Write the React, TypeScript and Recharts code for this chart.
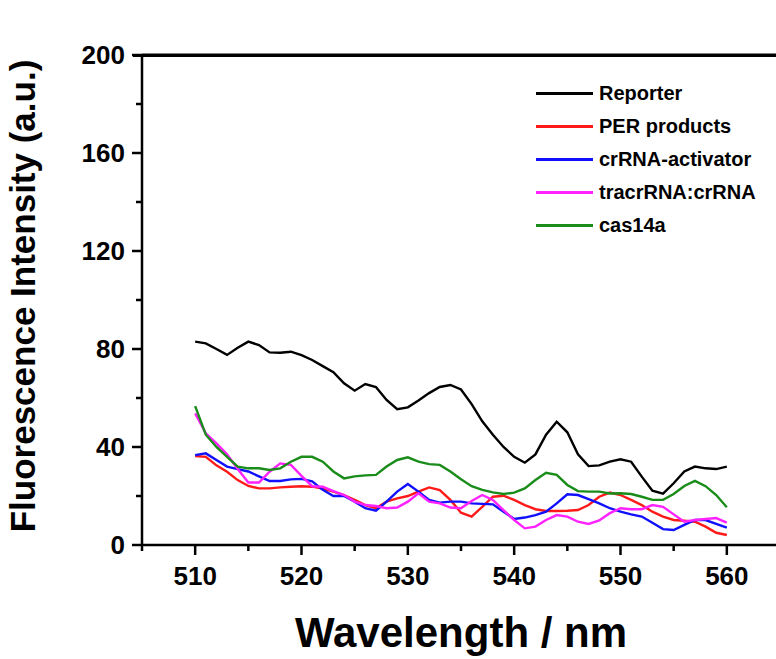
import React from 'react';
import { LineChart, Line, XAxis, YAxis, Legend, ReferenceLine } from 'recharts';

const wavelengths = [510,511,512,513,514,515,516,517,518,519,520,521,522,523,524,525,526,527,528,529,530,531,532,533,534,535,536,537,538,539,540,541,542,543,544,545,546,547,548,549,550,551,552,553,554,555,556,557,558,559,560];

const reporter = [83,82.3,80,77.6,80.5,83,81.6,78.6,78.5,78.9,77.5,75.5,73,70.5,66,63,65.7,64.5,59.2,55.4,56.2,59,62,64.5,65.3,63.5,57.5,50.5,45,40,36,33.6,37,45,50.3,46,37,32.2,32.5,34,35,34,27.9,22.2,21,25.2,30,32,31.3,31,32];
const perProducts = [36.3,36,32.5,29.9,26.5,24.1,23.1,23.1,23.5,23.8,24,23.8,23,21.8,20.4,18.4,16.3,15,17.7,19,20,21.8,23.5,22.4,18.4,13.2,11.6,15.6,19.7,20.1,18.4,16.3,14.6,13.9,13.9,14,14.3,16.3,19.7,21.4,20.4,18.4,16.3,13.6,11.6,10.2,9.9,9.5,7.5,5,4.1];
const crRNAActivator = [36.7,37.4,34.7,32,31,30,28,26.1,26.1,26.8,27,26,22.5,20,20,17.7,15,14,17.7,21.8,24.9,21.8,18.4,17.3,17.7,17.7,17,16.8,16.6,13.6,10.6,11.2,12.2,13.6,17,20.7,20.4,18.7,17,15,13.6,12.5,11.6,9.1,6.5,6.1,8.2,10.2,10.2,8.6,7.1];
const tracrRNA = [53.7,45.6,41.5,37,31,25.5,25.5,29.9,33.3,32.7,28.2,24,23.8,22,20.4,17.7,16.3,15.9,15,15.3,17.7,21.1,17.7,17,15.3,15,18,20.4,18.4,14.2,10.2,6.8,7.5,10.2,12.2,11.6,9.5,8.6,10,13,15,14.6,14.6,16.3,15.6,12.5,9.5,10.2,10.6,11,9.1];
const cas14a = [56.7,45,40,36,32,31.3,31.3,30.6,31.3,34,36,36,34,30,27.2,28,28.4,28.6,32,34.7,35.8,34,33,32.7,30,26.8,24,22.5,21.5,20.8,21.4,23.1,26.5,29.5,28.6,24.5,22,21.8,21.8,21,21.1,20.8,19.7,18.4,18.4,20.8,24.1,26.2,24,20.4,15.4];

const xTicks = [505,510,515,520,525,530,535,540,545,550,555,560,565];
const yTicks = [0,20,40,60,80,100,120,140,160,180,200];

const seriesNames = ['Reporter','PER products','crRNA-activator','tracrRNA:crRNA','cas14a'];
const seriesColors = ['#000000','#ff1a1a','#1010ff','#ff22ff','#1a8c1a'];
const seriesKeys = ['reporter','per','cr','tracr','cas'];

const data = wavelengths.map((w, i) => ({
  x: w,
  reporter: reporter[i],
  per: perProducts[i],
  cr: crRNAActivator[i],
  tracr: tracrRNA[i],
  cas: cas14a[i],
}));

const FONT = '"Liberation Sans", Arial, Helvetica, sans-serif';
const CHART_W = 790;
const MARGIN_R = 10;
const Y_AXIS_W = 142;
const PLOT_TOP = 55;

const XTick = (props: any) => {
  const { x, y, payload } = props;
  const v = payload.value;
  const major = v % 10 === 0;
  return (
    <g>
      <line x1={x} x2={x} y1={y} y2={y + (major ? 10 : 6)} stroke="#000" strokeWidth={2.5} />
      {major && v >= 510 && v <= 560 ? (
        <text x={x} y={y + 40} textAnchor="middle" fontFamily={FONT} fontWeight="bold" fontSize={26} fill="#000">{v}</text>
      ) : null}
    </g>
  );
};

const YTick = (props: any) => {
  const { x, y, payload } = props;
  const v = payload.value;
  const major = v % 40 === 0;
  return (
    <g>
      <line x1={x} x2={x - (major ? 10 : 6)} y1={y} y2={y} stroke="#000" strokeWidth={2.5} />
      {major ? (
        <text x={x - 17} y={y + 9} textAnchor="end" fontFamily={FONT} fontWeight="bold" fontSize={26} fill="#000">{v}</text>
      ) : null}
    </g>
  );
};

const renderLegend = () => {
  return (
    <div style={{ fontFamily: FONT }}>
      {seriesNames.map((name, i) => (
        <div key={name} style={{ display: 'flex', alignItems: 'center', height: 33 }}>
          <div style={{ width: 57, height: 2.5, background: seriesColors[i], marginRight: 6 }} />
          <span style={{ fontSize: 20, fontWeight: 'bold', color: '#000', whiteSpace: 'nowrap' }}>{name}</span>
        </div>
      ))}
    </div>
  );
};

export default function App() {
  return (
    <div style={{ position: 'absolute', left: 0, top: 0, width: 776, height: 659, overflow: 'hidden', background: '#fff' }}>
      <LineChart width={CHART_W} height={659} data={data} margin={{ top: PLOT_TOP, right: MARGIN_R, left: 0, bottom: 54 }}>
        <XAxis
          dataKey="x"
          type="number"
          domain={[505, 565]}
          ticks={xTicks}
          allowDataOverflow
          height={60}
          tickSize={0}
          tickMargin={0}
          tickLine={false}
          axisLine={{ stroke: '#000', strokeWidth: 2.5 }}
          tick={<XTick />}
          interval={0}
          label={{
            content: () => (
              <text x={461} y={647} textAnchor="middle" fontFamily={FONT} fontWeight="bold" fontSize={42} fill="#000">Wavelength / nm</text>
            ),
          }}
        />
        <YAxis
          type="number"
          domain={[0, 200]}
          ticks={yTicks}
          allowDataOverflow
          width={Y_AXIS_W}
          tickSize={0}
          tickMargin={0}
          tickLine={false}
          axisLine={{ stroke: '#000', strokeWidth: 2.5 }}
          tick={<YTick />}
          interval={0}
          label={{
            content: () => (
              <text x={35} y={296} transform="rotate(-90 35 296)" textAnchor="middle" fontFamily={FONT} fontWeight="bold" fontSize={35} fill="#000">Fluorescence Intensity (a.u.)</text>
            ),
          }}
        />
        <ReferenceLine y={200} stroke="#000" strokeWidth={3} />
        {seriesKeys.map((k, i) => (
          <Line
            key={k}
            type="linear"
            dataKey={k}
            name={seriesNames[i]}
            stroke={seriesColors[i]}
            strokeWidth={2.4}
            dot={false}
            activeDot={false}
            isAnimationActive={false}
          />
        ))}
        <Legend
          layout="vertical"
          align="center"
          verticalAlign="middle"
          content={renderLegend}
          wrapperStyle={{ position: 'absolute', left: 536, top: 77, width: 240, height: 170 }}
        />
      </LineChart>
      <div style={{ position: 'absolute', zIndex: 10, left: Y_AXIS_W - 9, top: PLOT_TOP - 1.5, width: 700, height: 3, background: '#000', pointerEvents: 'none' }} />
    </div>
  );
}
